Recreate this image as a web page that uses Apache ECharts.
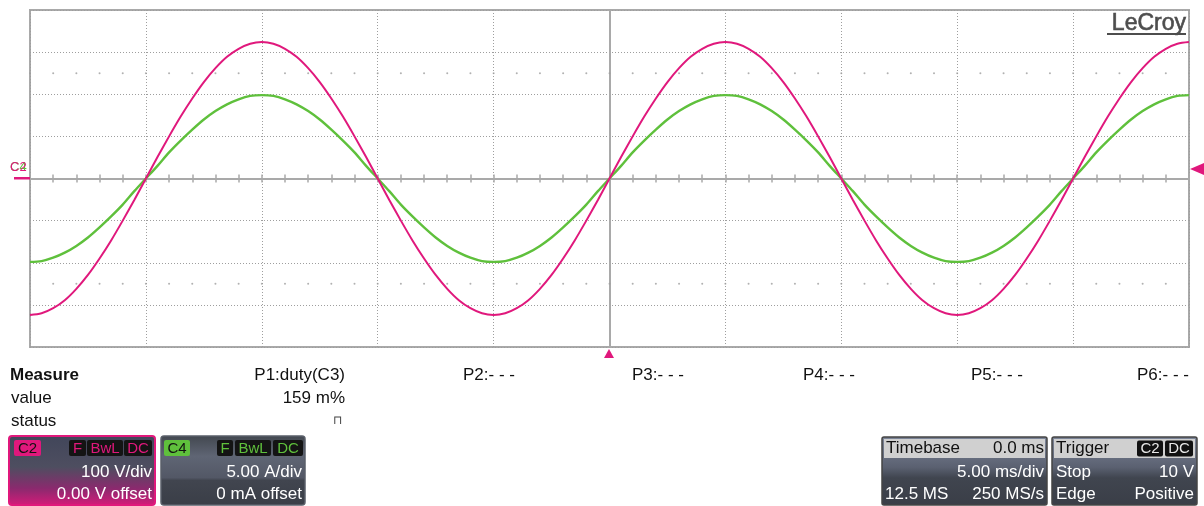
<!DOCTYPE html>
<html><head><meta charset="utf-8">
<script src="https://cdn.jsdelivr.net/npm/echarts@6/dist/echarts.min.js"></script>
<style>html,body{margin:0;padding:0;background:#fff}#c{width:1204px;height:506px}</style>
</head><body><div id="c"></div>
<script>
// Time axis (ms), trigger at 0 ms, 5 ms/div, 10 divisions
const timeMs = [-25,-24.5,-24,-23.5,-23,-22.5,-22,-21.5,-21,-20.5,-20,-19.5,-19,-18.5,-18,-17.5,-17,-16.5,-16,-15.5,-15,-14.5,-14,-13.5,-13,-12.5,-12,-11.5,-11,-10.5,-10,-9.5,-9,-8.5,-8,-7.5,-7,-6.5,-6,-5.5,-5,-4.5,-4,-3.5,-3,-2.5,-2,-1.5,-1,-0.5,0,0.5,1,1.5,2,2.5,3,3.5,4,4.5,5,5.5,6,6.5,7,7.5,8,8.5,9,9.5,10,10.5,11,11.5,12,12.5,13,13.5,14,14.5,15,15.5,16,16.5,17,17.5,18,18.5,19,19.5,20,20.5,21,21.5,22,22.5,23,23.5,24,24.5,25];
// C2 voltage (V), 100 V/div
const voltageC2 = [-324,-320,-308,-289,-262,-229,-190,-147,-100,-51,0,51,100,147,190,229,262,289,308,320,324,320,308,289,262,229,190,147,100,51,0,-51,-100,-147,-190,-229,-262,-289,-308,-320,-324,-320,-308,-289,-262,-229,-190,-147,-100,-51,0,51,100,147,190,229,262,289,308,320,324,320,308,289,262,229,190,147,100,51,0,-51,-100,-147,-190,-229,-262,-289,-308,-320,-324,-320,-308,-289,-262,-229,-190,-147,-100,-51,0,51,100,147,190,229,262,289,308,320,324];
// C4 current (A), 5 A/div
const currentC4 = [-9.9,-9.8,-9.4,-8.8,-8.0,-7.0,-5.8,-4.5,-3.1,-1.5,0,1.5,3.1,4.5,5.8,7.0,8.0,8.8,9.4,9.8,9.9,9.8,9.4,8.8,8.0,7.0,5.8,4.5,3.1,1.5,0,-1.5,-3.1,-4.5,-5.8,-7.0,-8.0,-8.8,-9.4,-9.8,-9.9,-9.8,-9.4,-8.8,-8.0,-7.0,-5.8,-4.5,-3.1,-1.5,0,1.5,3.1,4.5,5.8,7.0,8.0,8.8,9.4,9.8,9.9,9.8,9.4,8.8,8.0,7.0,5.8,4.5,3.1,1.5,0,-1.5,-3.1,-4.5,-5.8,-7.0,-8.0,-8.8,-9.4,-9.8,-9.9,-9.8,-9.4,-8.8,-8.0,-7.0,-5.8,-4.5,-3.1,-1.5,0,1.5,3.1,4.5,5.8,7.0,8.0,8.8,9.4,9.8,9.9];
// dotted graticule rows (V)
const dotRowsV = [-250, 250];

const measureLabels = ['Measure', 'value', 'status'];
const paramLabels = ['P1:duty(C3)', 'P2:- - -', 'P3:- - -', 'P4:- - -', 'P5:- - -', 'P6:- - -'];
const p1Value = '159 m%';

const MAG = '#e0187c', GRN = '#5fc03c', GRAY = '#a9a9a9', DOT = '#9e9e9e';
const FONT = 'Liberation Sans, Arial, sans-serif';

const dotData = [];
dotRowsV.forEach(v => timeMs.filter(t => Number.isInteger(t)).forEach(t => dotData.push([t, v])));

function txt(x, y, text, color, size, align, bold) {
  return { type: 'text', x: x, y: y, z: 10, silent: true,
    style: { text: text, fill: color, font: (bold ? 'bold ' : '') + size + 'px ' + FONT,
      textAlign: align || 'left', textVerticalAlign: 'middle' } };
}
function rect(x, y, w, h, fill, stroke, lw, r) {
  return { type: 'rect', z: 5, silent: true, shape: { x: x, y: y, width: w, height: h, r: r || 0 },
    style: { fill: fill, stroke: stroke || null, lineWidth: lw || 0 } };
}
function badge(x, w, y, bg, color, text) {
  return [rect(x, y, w, 16, bg, null, 0, 2), txt(x + w / 2, y + 8.5, text, color, 15, 'center')];
}
function grad(stops) {
  return { type: 'linear', x: 0, y: 0, x2: 0, y2: 1, colorStops: stops.map(s => ({ offset: s[0], color: s[1] })) };
}

const g = [];
// LeCroy logo
g.push({ type: 'text', x: 1186, y: 24, z: 10, silent: true,
  style: { text: 'LeCroy', fill: '#4d4d4d', stroke: '#4d4d4d', lineWidth: 0.6, font: '23px ' + FONT, textAlign: 'right', textVerticalAlign: 'middle' } });
g.push(rect(1107, 33, 79, 2, '#4d4d4d'));
// left ground markers
g.push(txt(10, 167, 'C4', GRN, 13, 'left'));
g.push(txt(10, 167, 'C2', MAG, 13, 'left'));
g.push(rect(14, 177, 16, 2.5, MAG));
// trigger level marker (right)
g.push({ type: 'polygon', z: 10, silent: true, shape: { points: [[1190, 169], [1204, 163], [1204, 175]] }, style: { fill: MAG } });
// trigger position marker (bottom)
g.push({ type: 'polygon', z: 10, silent: true, shape: { points: [[609, 349], [604, 358], [614, 358]] }, style: { fill: MAG } });

// measure table
g.push(txt(10, 375, measureLabels[0], '#111', 17, 'left', true));
g.push(txt(11, 398, measureLabels[1], '#111', 17, 'left'));
g.push(txt(11, 421, measureLabels[2], '#111', 17, 'left'));
g.push(txt(345, 375, paramLabels[0], '#111', 17, 'right'));
g.push(txt(345, 398, p1Value, '#111', 17, 'right'));
g.push(txt(337, 421, '\u2293', '#444', 12, 'center'));
const pX = [463, 632, 803, 971, 1137];
for (let i = 1; i < paramLabels.length; i++) g.push(txt(pX[i - 1], 375, paramLabels[i], '#111', 17, 'left'));

// C2 channel box
g.push(rect(9, 436, 146, 69, grad([[0, '#41465a'], [0.45, '#4e4e60'], [0.75, '#8a2a6e'], [1, '#d81a7a']]), MAG, 2, 3));
g.push(...badge(14, 27, 440, MAG, '#111', 'C2'));
g.push(...badge(69, 17, 440, '#141414', MAG, 'F'));
g.push(...badge(87, 36, 440, '#141414', MAG, 'BwL'));
g.push(...badge(124, 28, 440, '#141414', MAG, 'DC'));
g.push(txt(152, 472, '100 V/div', '#ffffff', 17, 'right'));
g.push(txt(152, 494, '0.00 V offset', '#ffffff', 17, 'right'));

// C4 channel box
g.push(rect(161, 436, 144, 69, grad([[0, '#42474f'], [0.3, '#5f6574'], [0.6, '#535866'], [0.64, '#41454f'], [1, '#3a3e47']]), '#5a5f69', 1.5, 3));
g.push(...badge(164, 26, 440, GRN, '#111', 'C4'));
g.push(...badge(217, 16, 440, '#141414', GRN, 'F'));
g.push(...badge(235, 36, 440, '#141414', GRN, 'BwL'));
g.push(...badge(273, 30, 440, '#141414', GRN, 'DC'));
g.push(txt(302, 472, '5.00 A/div', '#ffffff', 17, 'right'));
g.push(txt(302, 494, '0 mA offset', '#ffffff', 17, 'right'));

// Timebase box
g.push(rect(882, 437, 165, 68, grad([[0, '#7e879b'], [0.45, '#5a6070'], [0.6, '#40454f'], [1, '#3a3e47']]), '#444', 1.5, 2));
g.push(rect(884, 439, 161, 19, '#d0d0d0'));
g.push(txt(886, 448.5, 'Timebase', '#111', 17, 'left'));
g.push(txt(1044, 448.5, '0.0 ms', '#111', 17, 'right'));
g.push(txt(1044, 472, '5.00 ms/div', '#ffffff', 17, 'right'));
g.push(txt(885, 494, '12.5 MS', '#ffffff', 17, 'left'));
g.push(txt(1044, 494, '250 MS/s', '#ffffff', 17, 'right'));

// Trigger box
g.push(rect(1052, 437, 145, 68, grad([[0, '#7e879b'], [0.45, '#5a6070'], [0.6, '#40454f'], [1, '#3a3e47']]), '#444', 1.5, 2));
g.push(rect(1054, 439, 141, 19, '#d0d0d0'));
g.push(txt(1056, 448.5, 'Trigger', '#111', 17, 'left'));
g.push(...badge(1137, 26, 440.5, '#111', '#e8e8e8', 'C2'));
g.push(...badge(1165, 28, 440.5, '#111', '#e8e8e8', 'DC'));
g.push(txt(1056, 472, 'Stop', '#ffffff', 17, 'left'));
g.push(txt(1194, 472, '10 V', '#ffffff', 17, 'right'));
g.push(txt(1056, 494, 'Edge', '#ffffff', 17, 'left'));
g.push(txt(1194, 494, 'Positive', '#ffffff', 17, 'right'));

const tickAxisCommon = {
  type: 'value', min: -25, max: 25, interval: 5,
  axisLine: { show: true, onZero: true, onZeroAxisIndex: 0, lineStyle: { color: GRAY, width: 2 } },
  axisTick: { show: true, length: 4, inside: false, lineStyle: { color: GRAY, width: 1.5 } },
  minorTick: { show: true, splitNumber: 5, length: 4, lineStyle: { color: GRAY, width: 1.5 } },
  axisLabel: { show: false }
};
const dottedSplit = { show: true, lineStyle: { color: DOT, type: [1, 2], width: 1 } };

const option = {
  animation: false,
  backgroundColor: '#ffffff',
  grid: { left: 30, right: 15, top: 10, bottom: 159, show: true, borderColor: GRAY, borderWidth: 2, backgroundColor: 'transparent' },
  xAxis: [
    Object.assign({}, tickAxisCommon, { position: 'bottom', splitLine: dottedSplit }),
    Object.assign({}, tickAxisCommon, { position: 'top', splitLine: { show: false } })
  ],
  yAxis: [
    { type: 'value', min: -400, max: 400, interval: 100, position: 'left',
      axisLine: { show: true, onZero: true, onZeroAxisIndex: 0, lineStyle: { color: GRAY, width: 2 } },
      axisTick: { show: false }, axisLabel: { show: false }, splitLine: dottedSplit },
    { type: 'value', min: -20, max: 20, interval: 5, show: false, splitLine: { show: false } }
  ],
  series: [
    { type: 'scatter', name: 'grid dots', xAxisIndex: 0, yAxisIndex: 0, silent: true,
      symbolSize: 2, itemStyle: { color: DOT }, data: dotData, z: 1 },
    { type: 'line', name: 'C4', xAxisIndex: 0, yAxisIndex: 1, smooth: 0.3, showSymbol: false, symbol: 'none',
      lineStyle: { color: GRN, width: 2.4 }, data: timeMs.map((t, i) => [t, currentC4[i]]), z: 3 },
    { type: 'line', name: 'C2', xAxisIndex: 0, yAxisIndex: 0, smooth: 0.3, showSymbol: false, symbol: 'none',
      lineStyle: { color: MAG, width: 2 }, data: timeMs.map((t, i) => [t, voltageC2[i]]), z: 4 }
  ],
  graphic: g
};
const chart = echarts.init(document.getElementById('c'), null, { renderer: 'canvas' });
chart.setOption(option);
</script></body></html>
